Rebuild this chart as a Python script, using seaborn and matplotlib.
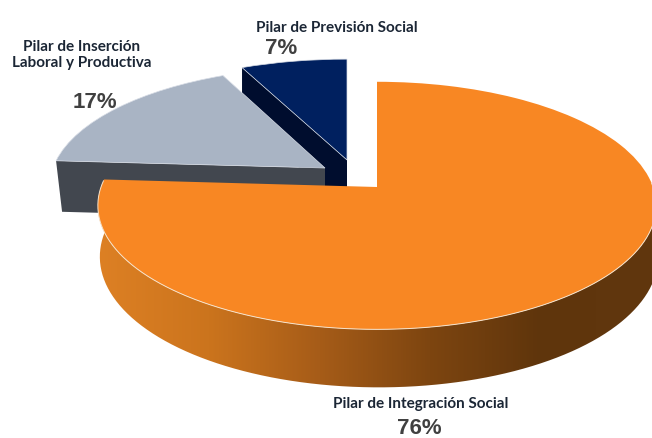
import numpy as np
import matplotlib
matplotlib.use('Agg')
import matplotlib.pyplot as plt
import seaborn as sns
from matplotlib.patches import PathPatch
from matplotlib.path import Path
from matplotlib.transforms import Transform

# data
pilares = ['Pilar de Integración Social', 'Pilar de Inserción\nLaboral y Productiva', 'Pilar de Previsión Social']
valores = [76, 17, 7]

colores = ['#f88723', '#a9b4c4', '#00205f']
colores_lado = ['#61370e', '#42474f', '#000d2e']

# apex in pixels, x radius, y scale of each exploded slice
apex = [(377, 188), (325, 169), (347, 161)]
radio_x = [276, 272, 280]
radio_y = [121, 116, 116]
k = 0.15
fondo = [(2, 50), (6, 51), (0, 50)]


def proyecta(xy, i):
    x, y = xy[:, 0], xy[:, 1]
    d = 1 + k * y
    return np.column_stack([apex[i][0] + radio_x[i] * x / d, apex[i][1] - radio_y[i] * y / d])


class Perspectiva(Transform):
    input_dims = 2
    output_dims = 2
    is_separable = False
    has_inverse = False

    def __init__(self, i):
        super().__init__()
        self.i = i

    def transform_non_affine(self, values):
        return proyecta(np.asarray(values), self.i)


def borde(theta, i):
    t = np.radians(theta)
    return proyecta(np.column_stack([np.cos(t), np.sin(t)]), i)


sns.set_theme(style='white')
fig = plt.figure(figsize=(6.52, 4.39), dpi=100)
ax = fig.add_axes([0, 0, 1, 1])

wedges, _ = ax.pie(valores, colors=colores, startangle=90, counterclock=False,
                   wedgeprops=dict(edgecolor='#d8dde6', linewidth=0.5))
ax.set_aspect('auto')
ax.axis('off')

orden = [2, 1, 0]
for n, i in enumerate(orden):
    w = wedges[i]
    w.set_transform(Perspectiva(i) + ax.transData)
    w.set_zorder(2 * n + 2)
    dx, dy = fondo[i]
    if i == 0:
        w.set_edgecolor('none')
        # outer wall of the big slice, shaded from left to right
        th = np.linspace(177, 362, 200)
        arriba = borde(th, 0)
        abajo = arriba + np.column_stack([dx * np.ones_like(th), dy - 8 * np.sin(np.radians(th))])
        pts = np.vstack([arriba, abajo[::-1]])
        cmap = sns.blend_palette(['#dd8024', '#cb741d', '#a65c18', '#7d4510', '#5f350c', '#61370e'], as_cmap=True)
        im = ax.imshow(np.linspace(0, 1, 256)[None, :], cmap=cmap, extent=(98, 652, 439, 0),
                       aspect='auto', zorder=2 * n + 1)
        im.set_clip_path(PathPatch(Path(pts), transform=ax.transData))
        ax.plot(arriba[:, 0], arriba[:, 1], color='#f6e3cc', lw=0.7, zorder=2 * n + 3)
    else:
        # flat wall along the cut edge of the slice
        esquina = borde(np.array([w.theta2]), i)[0]
        vertice = np.array(apex[i], dtype=float)
        ax.fill([esquina[0], vertice[0], vertice[0], esquina[0] + dx],
                [esquina[1], vertice[1], vertice[1] + dy, esquina[1] + dy],
                color=colores_lado[i], zorder=2 * n + 1, lw=0)

ax.set_xlim(0, 652)
ax.set_ylim(439, 0)

etiqueta = dict(family='Lato', fontweight='bold', color='#1b2635', fontsize=11, ha='center', va='center')
porcentaje = dict(family='Liberation Sans', fontweight='bold', color='#404040', fontsize=16, ha='center', va='center')
ax.text(421, 404, pilares[0], zorder=20, **etiqueta)
ax.text(82, 55, pilares[1], linespacing=1.2, zorder=20, **etiqueta)
ax.text(337, 28, pilares[2], zorder=20, **etiqueta)
ax.text(419, 429, f'{valores[0]}%', zorder=20, **porcentaje)
ax.text(95, 103, f'{valores[1]}%', zorder=20, **porcentaje)
ax.text(281, 49, f'{valores[2]}%', zorder=20, **porcentaje)

fig.savefig('out.png', dpi=100)
